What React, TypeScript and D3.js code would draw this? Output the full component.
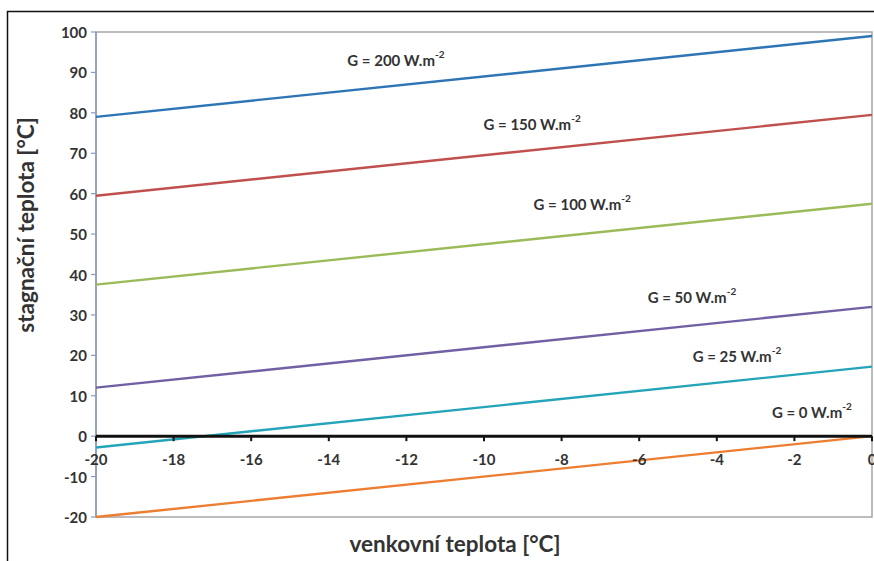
import React from "react";
import * as d3 from "d3";

// Outdoor temperature domain (°C) at both ends of each line
const outdoorTemps = [-20, 0];
// Irradiance levels, W.m-2
const irradiance = [200, 150, 100, 50, 25, 0];
// Stagnation temperature at -20 °C and at 0 °C for each irradiance level
const stagnationAtMinus20 = [79, 59.5, 37.5, 12, -2.8, -20];
const stagnationAtZero = [99, 79.5, 57.5, 32, 17.2, 0];
const seriesColors = ["#2e75b6", "#c0504d", "#9bbb59", "#7160a3", "#24a4b8", "#ed7d31"];
// Label anchors in data units (outdoor temp, stagnation temp)
const labelAnchorX = [-12.27, -8.76, -7.47, -4.64, -3.48, -1.55];
const labelAnchorY = [93.1, 77.2, 57.4, 34.4, 19.8, 6.0];

const xTicks = [-20, -18, -16, -14, -12, -10, -8, -6, -4, -2, 0];
const yTicks = [-20, -10, 0, 10, 20, 30, 40, 50, 60, 70, 80, 90, 100];

const W = 874;
const H = 561;
const plot = { left: 96, right: 872, top: 32, bottom: 517 };

export default function App() {
  const x = d3.scaleLinear().domain([-20, 0]).range([plot.left, plot.right]);
  const y = d3.scaleLinear().domain([-20, 100]).range([plot.bottom, plot.top]);
  const line = d3
    .line<[number, number]>()
    .x((d) => x(d[0]))
    .y((d) => y(d[1]));

  const font = "Lato, 'Open Sans', sans-serif";
  const textColor = "#333";

  return (
    <svg
      width={W}
      height={H}
      style={{ position: "absolute", left: 0, top: 0, display: "block", background: "#fff" }}
      fontFamily={font}
    >
      {/* outer frame */}
      <rect x={7.5} y={11.5} width={W + 20} height={H + 20} fill="none" stroke="#111" strokeWidth={1.5} />

      {/* plot area border */}
      <rect
        x={plot.left}
        y={plot.top}
        width={plot.right - plot.left}
        height={plot.bottom - plot.top}
        fill="#fff"
        stroke="#a6a6a6"
        strokeWidth={1.5}
      />

      {/* y axis line and ticks */}
      <line x1={plot.left} x2={plot.left} y1={plot.top} y2={plot.bottom} stroke="#8a9bc0" strokeWidth={1.5} />
      {yTicks.map((t) => (
        <g key={"y" + t}>
          <line x1={plot.left - 5} x2={plot.left} y1={y(t)} y2={y(t)} stroke="#8a9bc0" strokeWidth={1.2} />
          <text
            x={plot.left - 9}
            y={y(t)}
            textAnchor="end"
            dominantBaseline="central"
            fontSize={15}
            fontWeight={700}
            fill={textColor}
          >
            {t}
          </text>
        </g>
      ))}

      {/* series lines */}
      {irradiance.map((g, i) => (
        <path
          key={"s" + g}
          d={
            line([
              [outdoorTemps[0], stagnationAtMinus20[i]],
              [outdoorTemps[1], stagnationAtZero[i]],
            ]) as string
          }
          fill="none"
          stroke={seriesColors[i]}
          strokeWidth={2.4}
        />
      ))}

      {/* x axis at zero */}
      <line x1={plot.left} x2={plot.right} y1={y(0)} y2={y(0)} stroke="#111" strokeWidth={3} />
      {xTicks.map((t) => (
        <g key={"x" + t}>
          <line x1={x(t)} x2={x(t)} y1={y(0)} y2={y(0) + 5} stroke="#111" strokeWidth={2} />
          <text
            x={x(t)}
            y={y(0) + 23}
            textAnchor="middle"
            dominantBaseline="central"
            fontSize={15}
            fontWeight={700}
            fill={textColor}
          >
            {t}
          </text>
        </g>
      ))}

      {/* series labels */}
      {irradiance.map((g, i) => (
        <text
          key={"l" + g}
          x={x(labelAnchorX[i])}
          y={y(labelAnchorY[i])}
          textAnchor="middle"
          dominantBaseline="central"
          fontSize={15}
          fontWeight={700}
          fill={textColor}
        >
          {`G = ${g} W.m`}
          <tspan fontSize={10} dy={-6}>
            -2
          </tspan>
        </text>
      ))}

      {/* axis titles */}
      <text
        transform="translate(25, 225) rotate(-90)"
        textAnchor="middle"
        dominantBaseline="central"
        fontSize={22.5}
        fontWeight={700}
        fill={textColor}
      >
        stagnační teplota [°C]
      </text>
      <text
        x={455}
        y={543}
        textAnchor="middle"
        dominantBaseline="central"
        fontSize={22.5}
        fontWeight={700}
        fill={textColor}
      >
        venkovní teplota [°C]
      </text>
    </svg>
  );
}
